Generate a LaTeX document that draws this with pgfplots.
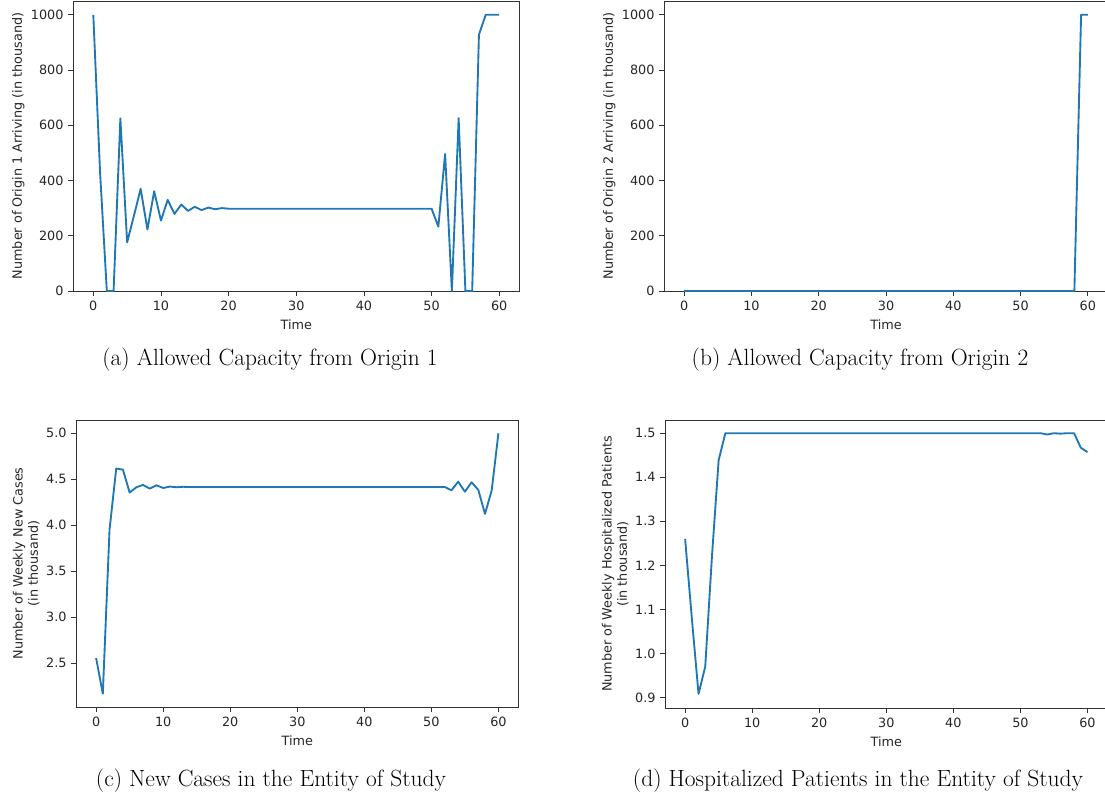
\documentclass[border=0pt]{standalone}
\usepackage{pgfplots}
\pgfplotsset{compat=1.18}
\usepackage{fontspec}
\newfontfamily\dejavu{DejaVu Sans}
\newfontfamily\capfont{Latin Modern Roman}
\newcommand\axfont{\dejavu\fontsize{9.6pt}{11.5pt}\selectfont}
\newcommand\cfont{\capfont\fontsize{17.6pt}{20pt}\selectfont}
\definecolor{mplblue}{RGB}{31,119,180}
\pgfplotsset{
  panel/.style={
    scale only axis, anchor=south west,
    xmin=-3, xmax=63,
    xtick={0,10,20,30,40,50,60},
    tick pos=left, tick align=outside,
    major tick length=3.6pt,
    every tick/.style={black!80, line width=0.6pt},
    axis line style={black!80, line width=0.6pt},
    font=\axfont,
    /pgf/number format/assume math mode=true,
    /pgf/number format/1000 sep={},
    tick label style={font=\axfont, black!85},
    label style={font=\axfont, black!85},
    xlabel={Time},
    xlabel style={yshift=-0.5pt},
    clip=false,
  },
  dataline/.style={mplblue, line width=1.4pt, line join=round, no markers},
}
\begin{document}
\begin{tikzpicture}
\useasboundingbox (0,0) rectangle (828.75pt,598.5pt);
% (a)
\begin{axis}[panel, at={(54.75pt,380.25pt)}, width=334.9pt, height=217.5pt,
  ymin=0, ymax=1050, ytick={0,200,400,600,800,1000},
  ylabel={Number of Origin 1 Arriving (in thousand)}, ylabel style={yshift=-2pt}]
\addplot[dataline] table {
x y
0 1000
1 430
2 0
3 0
4 625
5 176
6 272
7 370
8 223
9 361
10 255
11 330
12 279
13 313
14 290
15 305
16 293
17 302
18 296
19 300
20 298
21 298
22 298
23 298
24 298
25 298
26 298
27 298
28 298
29 298
30 298
31 298
32 298
33 298
34 298
35 298
36 298
37 298
38 298
39 298
40 298
41 298
42 298
43 298
44 298
45 298
46 298
47 298
48 298
49 298
50 298
51 233
52 496
53 0
54 626
55 0
56 0
57 928
58 1000
59 1000
60 1000
};
\end{axis}
% (b)
\begin{axis}[panel, at={(498pt,380.25pt)}, width=333pt, height=217.5pt,
  ymin=0, ymax=1050, ytick={0,200,400,600,800,1000},
  ylabel={Number of Origin 2 Arriving (in thousand)}, ylabel style={yshift=-2pt}]
\addplot[dataline] table {
x y
0 0
1 0
2 0
3 0
4 0
5 0
6 0
7 0
8 0
9 0
10 0
11 0
12 0
13 0
14 0
15 0
16 0
17 0
18 0
19 0
20 0
21 0
22 0
23 0
24 0
25 0
26 0
27 0
28 0
29 0
30 0
31 0
32 0
33 0
34 0
35 0
36 0
37 0
38 0
39 0
40 0
41 0
42 0
43 0
44 0
45 0
46 0
47 0
48 0
49 0
50 0
51 0
52 0
53 0
54 0
55 0
56 0
57 0
58 0
59 1000
60 1000
};
\end{axis}
% (c)
\begin{axis}[panel, at={(57pt,68.25pt)}, width=331.9pt, height=215.25pt,
  ymin=2.021, ymax=5.145, ytick={2.5,3.0,3.5,4.0,4.5,5.0},
  yticklabel style={/pgf/number format/.cd, fixed, fixed zerofill, precision=1},
  ylabel={Number of Weekly New Cases\\(in thousand)}, ylabel style={align=center, yshift=-2pt}]
\addplot[dataline] table {
x y
0 2.554
1 2.166
2 3.95
3 4.616
4 4.605
5 4.355
6 4.413
7 4.438
8 4.398
9 4.434
10 4.405
11 4.42
12 4.413
13 4.418
14 4.415
15 4.415
16 4.415
17 4.415
18 4.415
19 4.415
20 4.415
21 4.415
22 4.415
23 4.415
24 4.415
25 4.415
26 4.415
27 4.415
28 4.415
29 4.415
30 4.415
31 4.415
32 4.415
33 4.415
34 4.415
35 4.415
36 4.415
37 4.415
38 4.415
39 4.415
40 4.415
41 4.415
42 4.415
43 4.415
44 4.415
45 4.415
46 4.415
47 4.415
48 4.415
49 4.415
50 4.415
51 4.415
52 4.415
53 4.38
54 4.474
55 4.365
56 4.467
57 4.384
58 4.123
59 4.38
60 5.0
};
\end{axis}
% (d)
\begin{axis}[panel, at={(498.75pt,67.5pt)}, width=331.95pt, height=216pt,
  ymin=0.876, ymax=1.530, ytick={0.9,1.0,1.1,1.2,1.3,1.4,1.5},
  yticklabel style={/pgf/number format/.cd, fixed, fixed zerofill, precision=1},
  ylabel={Number of Weekly Hospitalized Patients\\(in thousand)}, ylabel style={align=center, yshift=-2pt}]
\addplot[dataline] table {
x y
0 1.26
1 1.08
2 0.908
3 0.970
4 1.22
5 1.439
6 1.5
7 1.5
8 1.5
9 1.5
10 1.5
11 1.5
12 1.5
13 1.5
14 1.5
15 1.5
16 1.5
17 1.5
18 1.5
19 1.5
20 1.5
21 1.5
22 1.5
23 1.5
24 1.5
25 1.5
26 1.5
27 1.5
28 1.5
29 1.5
30 1.5
31 1.5
32 1.5
33 1.5
34 1.5
35 1.5
36 1.5
37 1.5
38 1.5
39 1.5
40 1.5
41 1.5
42 1.5
43 1.5
44 1.5
45 1.5
46 1.5
47 1.5
48 1.5
49 1.5
50 1.5
51 1.5
52 1.5
53 1.5
54 1.497
55 1.5
56 1.499
57 1.5
58 1.5
59 1.467
60 1.457
};
\end{axis}
% captions
\node[font=\cfont] at (202.5pt,328.5pt) {(a) Allowed Capacity from Origin 1};
\node[font=\cfont] at (645pt,328.5pt) {(b) Allowed Capacity from Origin 2};
\node[font=\cfont] at (203.25pt,12.75pt) {(c) New Cases in the Entity of Study};
\node[font=\cfont] at (643.5pt,12.75pt) {(d) Hospitalized Patients in the Entity of Study};
\end{tikzpicture}
\end{document}
